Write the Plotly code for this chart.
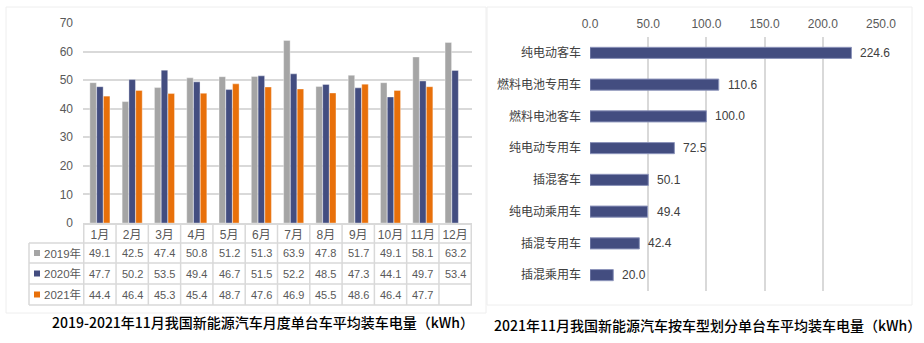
import plotly.graph_objects as go

# ---------------- data ----------------
months = ["1月", "2月", "3月", "4月", "5月", "6月", "7月", "8月", "9月", "10月", "11月", "12月"]
series_names = ["2019年", "2020年", "2021年"]
v2019 = [49.1, 42.5, 47.4, 50.8, 51.2, 51.3, 63.9, 47.8, 51.7, 49.1, 58.1, 63.2]
v2020 = [47.7, 50.2, 53.5, 49.4, 46.7, 51.5, 52.2, 48.5, 47.3, 44.1, 49.7, 53.4]
v2021 = [44.4, 46.4, 45.3, 45.4, 48.7, 47.6, 46.9, 45.5, 48.6, 46.4, 47.7, None]
series_values = [v2019, v2020, v2021]
series_colors = ["#A5A5A5", "#434D80", "#E8700A"]

vehicle_types = ["纯电动客车", "燃料电池专用车", "燃料电池客车", "纯电动专用车",
                 "插混客车", "纯电动乘用车", "插混专用车", "插混乘用车"]
vehicle_values = [224.6, 110.6, 100.0, 72.5, 50.1, 49.4, 42.4, 20.0]

title_left = "2019-2021年11月我国新能源汽车月度单台车平均装车电量（kWh）"
title_right = "2021年11月我国新能源汽车按车型划分单台车平均装车电量（kWh）"

# ---------------- layout helpers ----------------
W, H = 924, 343
def px_x(x):
    return x / W
def px_y(y):
    return 1 - y / H

FONT = "Liberation Sans, Noto Sans CJK SC, sans-serif"
GRID = "#D9D9D9"
TXT = "#595959"

fig = go.Figure()

# left grouped bars
for name, vals, col in zip(series_names, series_values, series_colors):
    fig.add_trace(go.Bar(x=months, y=vals, name=name,
                         marker=dict(color=col, line=dict(color="rgba(255,255,255,0.6)", width=0.6)),
                         xaxis="x", yaxis="y", showlegend=False))

# right horizontal bars
fig.add_trace(go.Bar(x=vehicle_values, y=vehicle_types, orientation="h", width=0.35,
                     marker=dict(color="#434D80", line=dict(color="#8C94BA", width=1)),
                     xaxis="x2", yaxis="y2", showlegend=False, cliponaxis=False))

shapes = []
annotations = []

# panel borders
shapes.append(dict(type="rect", xref="paper", yref="paper", x0=px_x(6), x1=px_x(486),
                   y0=px_y(313), y1=px_y(7), line=dict(color="#EEEEEE", width=1)))
shapes.append(dict(type="rect", xref="paper", yref="paper", x0=px_x(487), x1=px_x(912),
                   y0=px_y(305), y1=px_y(7), line=dict(color="#EEEEEE", width=1)))

# data table under left chart
row_lines = [243, 263, 284, 305]
row_centers = [253, 273.5, 294.5]
n = len(months)
for yl in row_lines:
    shapes.append(dict(type="line", xref="paper", yref="paper", x0=px_x(29), x1=px_x(472),
                       y0=px_y(yl), y1=px_y(yl), line=dict(color=GRID, width=1.5)))
shapes.append(dict(type="line", xref="paper", yref="paper", x0=px_x(29), x1=px_x(29),
                   y0=px_y(243), y1=px_y(305), line=dict(color=GRID, width=1.5)))
for i in range(n + 1):
    shapes.append(dict(type="line", xref="x", yref="paper", x0=i - 0.5, x1=i - 0.5,
                       y0=px_y(223), y1=px_y(305), line=dict(color=GRID, width=1.5)))

for r, (name, vals, col) in enumerate(zip(series_names, series_values, series_colors)):
    yc = row_centers[r]
    shapes.append(dict(type="rect", xref="paper", yref="paper", x0=px_x(34), x1=px_x(40),
                       y0=px_y(yc + 3), y1=px_y(yc - 3), fillcolor=col, line=dict(width=0)))
    annotations.append(dict(text=name, xref="paper", yref="paper", x=px_x(42), y=px_y(yc),
                            xanchor="left", yanchor="middle", showarrow=False,
                            font=dict(family=FONT, size=11.5, color=TXT)))
    for m, v in zip(months, vals):
        if v is None:
            continue
        annotations.append(dict(text=f"{v:.1f}", xref="x", yref="paper", x=m, y=px_y(yc),
                                xanchor="center", yanchor="middle", showarrow=False,
                                font=dict(family=FONT, size=11, color=TXT)))

# value labels for right bars
for cat, v in zip(vehicle_types, vehicle_values):
    annotations.append(dict(text=f"{v:.1f}", xref="x2", yref="y2", x=v, y=cat, xanchor="left",
                            yanchor="middle", xshift=7, showarrow=False,
                            font=dict(family=FONT, size=12, color="#404040")))

# titles
annotations.append(dict(text=title_left, xref="paper", yref="paper", x=px_x(263), y=px_y(322),
                        xanchor="center", yanchor="middle", showarrow=False,
                        font=dict(family="Noto Sans CJK SC", size=14, color="#000000", weight=500)))
annotations.append(dict(text=title_right, xref="paper", yref="paper", x=px_x(707), y=px_y(325),
                        xanchor="center", yanchor="middle", showarrow=False,
                        font=dict(family="Noto Sans CJK SC", size=14, color="#000000", weight=500)))

fig.update_layout(
    template="none",
    width=W, height=H,
    margin=dict(l=0, r=0, t=0, b=0, pad=0),
    paper_bgcolor="white", plot_bgcolor="white",
    showlegend=False,
    barmode="group", bargap=0.37, bargroupgap=0.04,
    font=dict(family=FONT, size=12, color=TXT),
    xaxis=dict(domain=[px_x(83), px_x(472)], anchor="y", type="category", automargin=False,
               categoryorder="array", categoryarray=months,
               showgrid=False, showline=True, linecolor=GRID, linewidth=1.5,
               ticks="", tickfont=dict(family=FONT, size=12, color=TXT), fixedrange=True),
    yaxis=dict(domain=[px_y(223), px_y(23)], anchor="x", range=[0, 70], dtick=10, automargin=False,
               showgrid=True, gridcolor=GRID, gridwidth=1.5, zeroline=False, showline=False,
               ticks="", ticklabelstandoff=9, tickfont=dict(family=FONT, size=12, color=TXT)),
    xaxis2=dict(domain=[px_x(590), px_x(881)], anchor="y2", side="top", range=[0, 250], dtick=50,
                automargin=False,
                tickformat=".1f", showgrid=True, gridcolor=GRID, gridwidth=1.5, zeroline=False,
                showline=False, ticks="", ticklabelstandoff=6,
                tickfont=dict(family=FONT, size=12, color=TXT)),
    yaxis2=dict(domain=[px_y(291), px_y(37)], anchor="x2", type="category", automargin=False,
                categoryorder="array", categoryarray=vehicle_types, autorange="reversed",
                showgrid=False, showline=False, ticks="", ticklabelstandoff=8,
                tickfont=dict(family=FONT, size=12, color="#404040")),
    shapes=shapes, annotations=annotations,
)

fig.write_html("out.html")
